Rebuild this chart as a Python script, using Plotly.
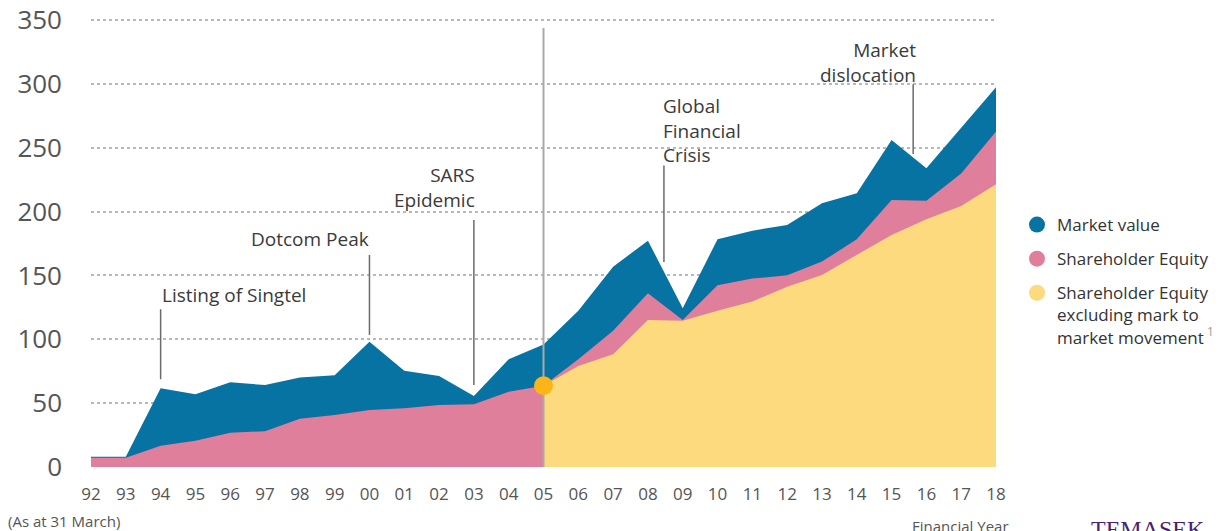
import plotly.graph_objects as go

# ---------------- data ----------------
years = ["92", "93", "94", "95", "96", "97", "98", "99", "00", "01", "02", "03", "04",
         "05", "06", "07", "08", "09", "10", "11", "12", "13", "14", "15", "16", "17", "18"]
market_value = [8.1, 8.1, 61.6, 57.0, 66.3, 64.2, 70.0, 71.8, 98.0, 75.4, 71.3, 55.6, 84.3,
                96.0, 122.4, 156.8, 177.2, 124.3, 178.3, 185.0, 189.5, 206.5, 214.3, 256.0,
                233.9, 265.2, 297.3]
shareholder_equity = [7.3, 7.3, 16.7, 20.6, 26.9, 28.0, 37.8, 40.7, 44.6, 46.0, 48.5, 49.1, 59.0,
                      63.7, 84.3, 106.7, 136.0, 115.0, 142.3, 147.5, 150.1, 160.8, 178.3, 209.0,
                      208.5, 229.7, 262.6]
excl_years = ["05", "06", "07", "08", "09", "10", "11", "12", "13", "14", "15", "16", "17", "18"]
equity_excl_mtm = [63.7, 79.0, 88.2, 115.1, 114.6, 122.4, 129.5, 141.2, 150.4, 166.0, 181.7,
                   194.0, 204.4, 221.4]
y_ticks = [0, 50, 100, 150, 200, 250, 300, 350]

event_labels = ["Listing of Singtel", "Dotcom Peak", "SARS<br>Epidemic",
                "Global<br>Financial<br>Crisis", "Market<br>dislocation"]
event_x = [2.0, 8.0, 11.0, 16.46, 23.62]          # position along the year axis
event_line_low = [68.7, 103.4, 64.2, 160.5, 245.1]
event_line_high = [123.5, 166.0, 193.4, 236.0, 299.7]

split_year = "05"
split_top = 343.8

# ---------------- style ----------------
BLUE = "#0673a2"
PINK = "#e07f9c"
YELLOW = "#fdda7e"
DOT = "#fbb516"
FONT = "Open Sans"
TXT = "#3a3a3a"
TICK = "#555555"

W, H = 1219, 531
Y_TOP = 353.1
PL, PR, PB = 91, 996, 467          # plot area in page pixels
PT = 16                             # top of plot area (y=350 lands at ~20px)

xi = list(range(len(years)))
xe = [years.index(y) for y in excl_years]
xs = years.index(split_year)

fig = go.Figure()

fig.add_trace(go.Scatter(x=xi, y=market_value, mode="lines", line=dict(width=0, color=BLUE),
                         fill="tozeroy", fillcolor=BLUE, showlegend=False, hoverinfo="skip"))
fig.add_trace(go.Scatter(x=xi, y=shareholder_equity, mode="lines", line=dict(width=0, color=PINK),
                         fill="tozeroy", fillcolor=PINK, showlegend=False, hoverinfo="skip"))
fig.add_trace(go.Scatter(x=xe, y=equity_excl_mtm, mode="lines", line=dict(width=0, color=YELLOW),
                         fill="tozeroy", fillcolor=YELLOW, showlegend=False, hoverinfo="skip"))

# vertical split line and dot
fig.add_trace(go.Scatter(x=[xs, xs], y=[0, split_top], mode="lines",
                         line=dict(color="#a9a9a9", width=2), showlegend=False, hoverinfo="skip"))
fig.add_trace(go.Scatter(x=[xs], y=[shareholder_equity[xs]], mode="markers",
                         marker=dict(color=DOT, size=19), showlegend=False, hoverinfo="skip"))

# legend entries
legend_items = [("Market value", BLUE),
                ("Shareholder Equity", PINK),
                ("Shareholder Equity<br>excluding mark to<br>market movement"
                 "<sup><span style='color:#999999'> 1</span></sup>", YELLOW)]
for i, (name, col) in enumerate(legend_items):
    fig.add_trace(go.Scatter(x=[None], y=[None], mode="markers", name=name,
                             marker=dict(color=col, size=16, symbol="circle"),
                             legendgroup=f"g{i}", showlegend=True))

# event annotations
text_pos = [  # (x, y, xanchor, align)
    (1.98, 134.7, "left", "left"),
    (8.03, 178.5, "right", "right"),
    (11.1, 219.0, "right", "right"),
    (16.38, 263.8, "left", "left"),
    (23.76, 316.8, "right", "right"),
]
shapes = []
annotations = []
for lab, ex, lo, hi, (tx, ty, xa, al) in zip(event_labels, event_x, event_line_low,
                                              event_line_high, text_pos):
    shapes.append(dict(type="line", xref="x", yref="y", x0=ex, x1=ex, y0=lo, y1=hi,
                       line=dict(color="#6b6b6b", width=1.5)))
    annotations.append(dict(x=tx, y=ty, xref="x", yref="y", text=lab, showarrow=False,
                            xanchor=xa, yanchor="middle", align=al,
                            font=dict(family=FONT, size=19, color=TXT)))


def px_x(px):
    return (px - PL) / (PR - PL)


def px_y(py):
    return (PB - py) / (PB - PT)


annotations += [
    dict(x=px_x(6), y=px_y(521), xref="paper", yref="paper", text="(As at 31 March)",
         showarrow=False, xanchor="left", yanchor="middle",
         font=dict(family=FONT, size=15, color=TICK)),
    dict(x=px_x(910), y=px_y(526), xref="paper", yref="paper", text="Financial Year",
         showarrow=False, xanchor="left", yanchor="middle",
         font=dict(family=FONT, size=15, color=TICK)),
    dict(x=px_x(1089), y=px_y(514), xref="paper", yref="paper", text="TEMASEK",
         showarrow=False, xanchor="left", yanchor="top",
         font=dict(family="Liberation Serif", size=24, color="#4a2170")),
]

fig.update_layout(
    width=W, height=H,
    margin=dict(l=PL, r=W - PR, t=PT, b=H - PB, pad=0, autoexpand=False),
    paper_bgcolor="white", plot_bgcolor="white",
    font=dict(family=FONT, color=TXT),
    shapes=shapes, annotations=annotations,
    showlegend=True,
    legend=dict(x=px_x(1017), y=px_y(207), xanchor="left", yanchor="top",
                font=dict(family=FONT, size=17, color="#333333"),
                tracegroupgap=9, valign="top", itemclick=False,
                bgcolor="rgba(0,0,0,0)"),
    xaxis=dict(range=[0, 26], tickmode="array", tickvals=xi, ticktext=years,
               showgrid=False, zeroline=False, showline=False, ticks="",
               ticklabelstandoff=15, automargin=False, ticklabeloverflow="allow",
               tickfont=dict(family=FONT, size=17, color=TICK)),
    yaxis=dict(range=[0, Y_TOP], tickmode="array", tickvals=y_ticks,
               showgrid=True, gridcolor="#b8b8b8", gridwidth=1.5, griddash="dot",
               zeroline=False, showline=False, ticks="", ticklabelstandoff=28,
               automargin=False, ticklabeloverflow="allow",
               tickfont=dict(family=FONT, size=26, color=TICK)),
)

# remove the browser's default 8px body margin so the figure fills the window exactly
fig.write_html("out.html",
               config={"displayModeBar": False},
               post_script="document.body.style.margin='0px';document.body.style.overflow='hidden';")
